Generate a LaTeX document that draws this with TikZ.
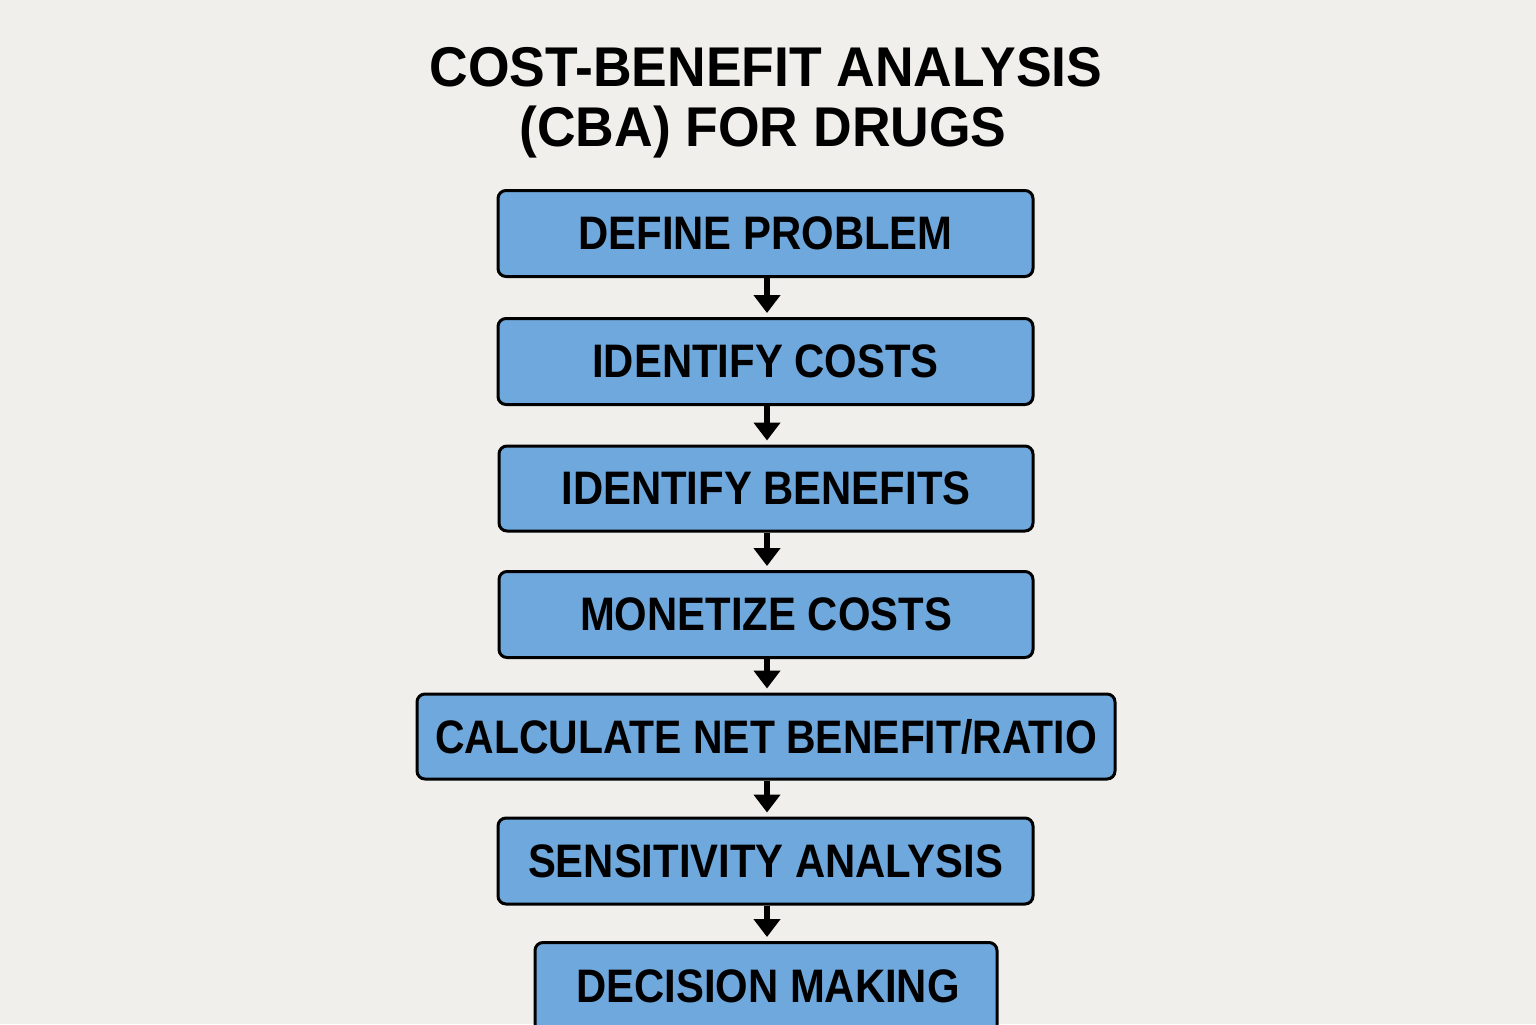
\documentclass[tikz,border=0pt]{standalone}
\usepackage{fontspec}
\setmainfont{Liberation Sans}
\newfontfamily\boxfont[FakeStretch=0.89]{Liberation Sans}
\newfontfamily\narrowboxfont[FakeStretch=0.87]{Liberation Sans}
\newfontfamily\titlefont[FakeStretch=0.955]{Liberation Sans}
\usetikzlibrary{arrows.meta}
\definecolor{bg}{HTML}{F0EFEB}
\definecolor{boxblue}{HTML}{6FA8DC}
\tikzset{
  x=0.5pt, y=-0.5pt,
  stepbox/.style={draw=black, line width=1.5pt, fill=boxblue, rounded corners=4pt,
    minimum height=43pt, inner sep=0pt, font=\boxfont\bfseries\fontsize{23.5}{26}\selectfont, text=black},
  flowarrow/.style={draw=black, line width=3pt, -{Triangle[width=13pt,length=9pt]}, shorten <=0pt, shorten >=2pt},
  titletext/.style={font=\titlefont\bfseries\fontsize{28}{34}\selectfont, align=center, text=black}
}
\begin{document}
\begin{tikzpicture}
\fill[bg] (0,0) rectangle (1536,1024);
\useasboundingbox (0,0) rectangle (1536,1024);
\clip (0,0) rectangle (1536,1024);
\node[titletext] (title1) at (766,67) {COST-BENEFIT ANALYSIS};
\node[titletext] (title2) at (763,132) {(CBA) FOR DRUGS};
\node[stepbox, minimum width=267.5pt] (s1) at (765.5,233.5) {DEFINE PROBLEM};
\node[stepbox, minimum width=267.5pt] (s2) at (765.5,361.5) {IDENTIFY COSTS};
\node[stepbox, minimum width=267pt, minimum height=42.5pt] (s3) at (766,488.5) {IDENTIFY BENEFITS};
\node[stepbox, minimum width=267pt] (s4) at (766,614.5) {MONETIZE COSTS};
\node[stepbox, minimum width=349pt, minimum height=42.5pt, font=\narrowboxfont\bfseries\fontsize{23.5}{26}\selectfont] (s5) at (766,736.5) {CALCULATE NET BENEFIT/RATIO};
\node[stepbox, minimum width=267.5pt] (s6) at (765.5,861) {SENSITIVITY ANALYSIS};
\node[stepbox, minimum width=231pt, minimum height=50pt, anchor=north] (s7) at (766,941) {};
\node[font=\boxfont\bfseries\fontsize{23.5}{26}\selectfont] (s7t) at (768,986) {DECISION MAKING};
\draw[flowarrow] (s1.south -| 767,0) -- (s2.north -| 767,0);
\draw[flowarrow] (s2.south -| 767,0) -- (s3.north -| 767,0);
\draw[flowarrow] (s3.south -| 767,0) -- (s4.north -| 767,0);
\draw[flowarrow] (s4.south -| 767,0) -- (s5.north -| 767,0);
\draw[flowarrow] (s5.south -| 767,0) -- (s6.north -| 767,0);
\draw[flowarrow] (s6.south -| 767,0) -- (s7.north -| 767,0);
\end{tikzpicture}
\end{document}
